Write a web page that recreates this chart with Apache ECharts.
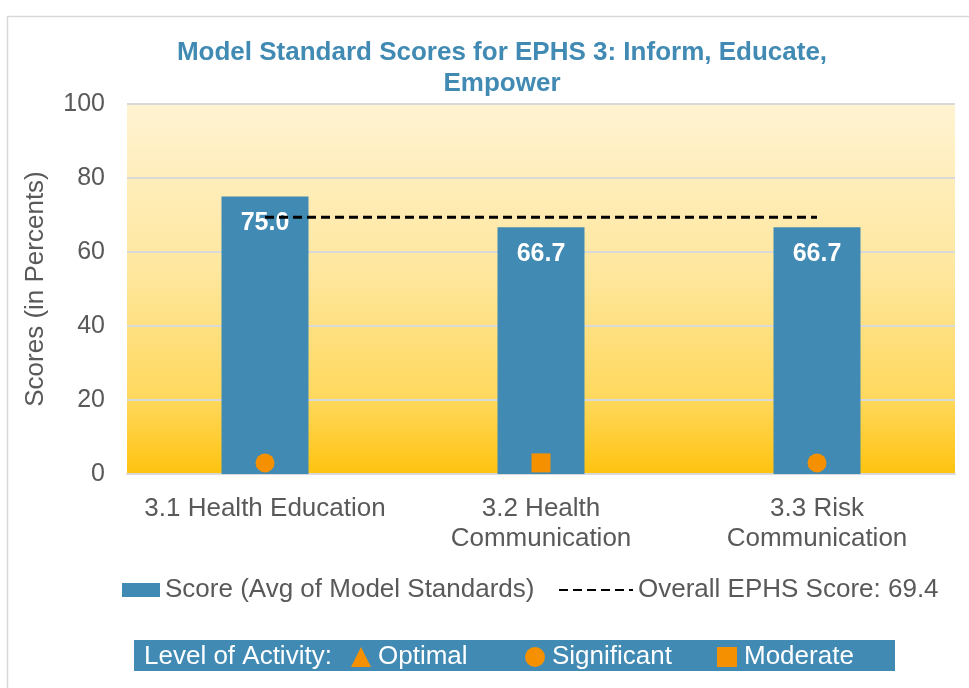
<!DOCTYPE html>
<html>
<head>
<meta charset="utf-8">
<script src="https://cdn.jsdelivr.net/npm/echarts@6/dist/echarts.min.js"></script>
<style>
html, body { margin: 0; padding: 0; background: #fff; }
#chart { width: 969px; height: 688px; }
</style>
</head>
<body>
<div id="chart"></div>
<script>
var categories = ['3.1 Health Education', '3.2 Health\nCommunication', '3.3 Risk\nCommunication'];
var scores = [75.0, 66.7, 66.7];
var overall = [69.4, 69.4, 69.4];
var levels = ['Significant', 'Moderate', 'Significant'];
var levelNames = ['Optimal', 'Significant', 'Moderate'];
var levelSymbols = ['triangle', 'circle', 'rect'];
var markerValue = 3;
var yTicks = [0, 20, 40, 60, 80, 100];

var blue = '#418AB3';
var orange = '#F59100';
var grayText = '#595959';
var font = 'Liberation Sans, Arial, sans-serif';

var levelSeries = levelNames.map(function(name, k) {
	return {
		name: name,
		type: 'scatter',
		symbol: levelSymbols[k],
		symbolSize: 19,
		z: 5,
		itemStyle: { color: orange, opacity: 1 },
		data: categories.map(function(c, i) {
			return levels[i] === name ? markerValue : '-';
		})
	};
});

// one small legend per activity level so each sits where the original puts it
var levelLegendLeft = [346, 520, 712];
var levelLegends = levelNames.map(function(name, k) {
	return {
		data: [{ name: name, icon: levelSymbols[k] }],
		left: levelLegendLeft[k], top: 639,
		itemWidth: 20, itemHeight: 20, itemGap: 5,
		z: 3,
		itemStyle: { opacity: 1 },
		textStyle: { color: '#fff', fontSize: 26, fontFamily: font, padding: [0, 0, 0, 2] }
	};
});

var option = {
	animation: false,
	textStyle: { fontFamily: font },
	title: {
		text: 'Model Standard Scores for EPHS 3: Inform, Educate,\nEmpower',
		left: 497,
		textAlign: 'center',
		top: 32,
		textStyle: { color: blue, fontSize: 26, fontWeight: 'bold', lineHeight: 31, fontFamily: font }
	},
	graphic: [
		{
			type: 'rect', left: 5, top: 14, z: -10,
			shape: { width: 1000, height: 700 },
			style: { fill: 'none', stroke: '#D9D9D9', lineWidth: 1.5 }
		},
		{
			type: 'rect', left: 134, top: 640, z: 0,
			shape: { width: 761, height: 31 },
			style: { fill: blue }
		},
		{
			type: 'text', left: 144, top: 644, z: 1,
			style: { text: 'Level of Activity:', fill: '#fff', fontSize: 26, fontFamily: font }
		}
	],
	legend: [
		{
			data: [{ name: 'Score (Avg of Model Standards)', icon: 'rect' }],
			left: 117, top: 572,
			itemWidth: 38, itemHeight: 14,
			textStyle: { color: grayText, fontSize: 26, fontFamily: font }
		},
		{
			data: ['Overall EPHS Score: 69.4'],
			left: 553, top: 572,
			itemWidth: 74, itemHeight: 14,
			itemStyle: { opacity: 0 },
			textStyle: { color: grayText, fontSize: 26, fontFamily: font }
		}
	].concat(levelLegends),
	grid: {
		left: 127, right: 14, top: 104, bottom: 214,
		show: true, borderWidth: 0,
		backgroundColor: new echarts.graphic.LinearGradient(0, 0, 0, 1, [
			{ offset: 0, color: '#FFF3D2' },
			{ offset: 0.45, color: '#FFE79E' },
			{ offset: 0.8, color: '#FFD85C' },
			{ offset: 1, color: '#FFC30F' }
		])
	},
	xAxis: {
		type: 'category',
		data: categories,
		axisTick: { show: false },
		axisLine: { lineStyle: { color: '#D9D9D9', width: 2 } },
		axisLabel: { color: grayText, fontSize: 26, lineHeight: 30, margin: 20, interval: 0, fontFamily: font }
	},
	yAxis: {
		type: 'value',
		min: 0, max: 100, interval: 20,
		name: 'Scores (in Percents)',
		nameLocation: 'middle',
		nameGap: 78,
		nameRotate: 90,
		nameTextStyle: { color: grayText, fontSize: 26, fontFamily: font },
		axisLabel: {
			color: grayText, fontSize: 25, margin: 22, fontFamily: font,
			formatter: function(v) { return yTicks.indexOf(v) >= 0 ? String(v) : ''; }
		},
		splitLine: { lineStyle: { color: '#D9D9D9', width: 2 } }
	},
	series: [
		{
			name: 'Score (Avg of Model Standards)',
			type: 'bar',
			barWidth: 87,
			itemStyle: { color: blue },
			label: {
				show: true,
				position: 'insideTop',
				distance: 14,
				color: '#fff',
				fontSize: 25,
				fontWeight: 'bold',
				fontFamily: font,
				formatter: function(p) { return p.value.toFixed(1); }
			},
			data: scores
		},
		{
			name: 'Overall EPHS Score: 69.4',
			type: 'line',
			symbol: 'none',
			z: 4,
			lineStyle: { color: '#000', width: 3, type: [9, 5] },
			itemStyle: { color: '#000' },
			data: overall
		}
	].concat(levelSeries)
};

var chart = echarts.init(document.getElementById('chart'));
chart.setOption(option);
</script>
</body>
</html>
